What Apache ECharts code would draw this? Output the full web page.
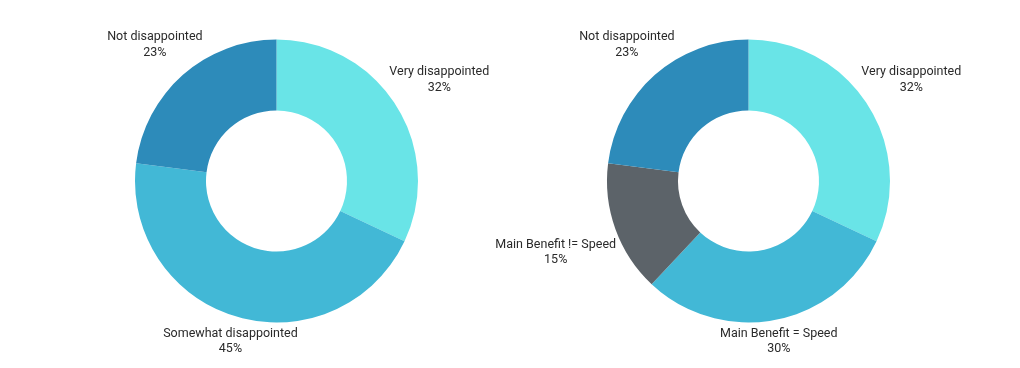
<!DOCTYPE html>
<html><head><meta charset="utf-8">
<script src="https://cdn.jsdelivr.net/npm/echarts@6/dist/echarts.min.js"></script>
<style>html,body{margin:0;padding:0;background:#fff}#c{width:1020px;height:368px}</style>
</head><body><div id="c"></div>
<script>
const leftCategories = ['Very disappointed', 'Somewhat disappointed', 'Not disappointed'];
const leftValues = [32, 45, 23];
const leftColors = ['#69E4E7', '#42B8D6', '#2D8BBA'];

const rightCategories = ['Very disappointed', 'Main Benefit = Speed', 'Main Benefit != Speed', 'Not disappointed'];
const rightValues = [32, 30, 15, 23];
const rightColors = ['#69E4E7', '#42B8D6', '#5C6369', '#2D8BBA'];

const CY = 181, R_OUT = 141.5, R_IN = 70.5, LABEL_GAP = 143, LABEL_SHIFT_Y = 2;
const centersX = [276.5, 748.5];

function makeLayout(values, cx) {
  const total = values.reduce((a, b) => a + b, 0);
  return function (params) {
    let before = 0;
    for (let i = 0; i < params.dataIndex; i++) before += values[i];
    const mid = (before + values[params.dataIndex] / 2) / total * Math.PI * 2;
    const dx = Math.sin(mid), dy = -Math.cos(mid);
    const w = params.labelRect.width / 2, h = params.labelRect.height / 2;
    const dist = t => {
      const ex = Math.max(Math.abs(t * dx) - w, 0), ey = Math.max(Math.abs(t * dy) - h, 0);
      return Math.sqrt(ex * ex + ey * ey);
    };
    let lo = 0, hi = 600;
    for (let k = 0; k < 60; k++) { const m = (lo + hi) / 2; if (dist(m) < LABEL_GAP) lo = m; else hi = m; }
    return { x: cx + dx * lo, y: CY + dy * lo + LABEL_SHIFT_Y, align: 'center', verticalAlign: 'middle' };
  };
}

function series(cats, vals, cols, cx) {
  return {
    type: 'pie',
    center: [cx, CY],
    radius: [R_IN, R_OUT],
    startAngle: 90,
    clockwise: true,
    avoidLabelOverlap: false,
    silent: true,
    itemStyle: { borderWidth: 0 },
    label: {
      show: true, position: 'outside', formatter: '{b}\n{c}%',
      fontFamily: 'Roboto', fontSize: 12.5, lineHeight: 15.5, color: '#2a2a2a', align: 'center'
    },
    labelLine: { show: false },
    labelLayout: makeLayout(vals, cx),
    data: cats.map((n, i) => ({ name: n, value: vals[i], itemStyle: { color: cols[i] } }))
  };
}

const chart = echarts.init(document.getElementById('c'), null, { renderer: 'canvas' });
chart.setOption({
  animation: false,
  backgroundColor: '#fff',
  series: [
    series(leftCategories, leftValues, leftColors, centersX[0]),
    series(rightCategories, rightValues, rightColors, centersX[1])
  ]
});
</script></body></html>
